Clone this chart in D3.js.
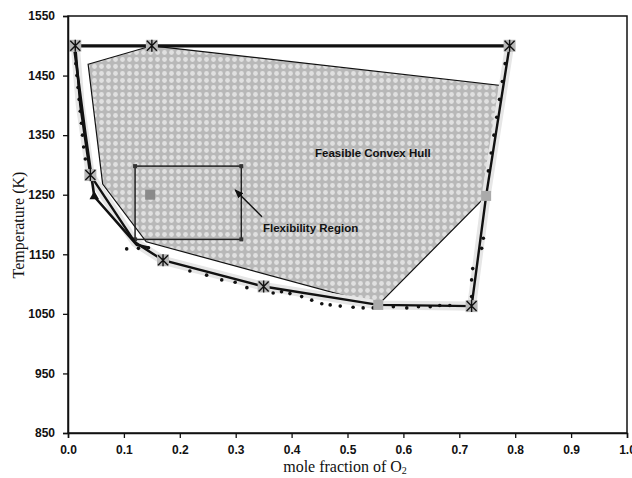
<!DOCTYPE html>
<html lang="en">
<head>
  <meta charset="UTF-8">
  <title>Feasible Convex Hull</title>
  <script src="https://d3js.org/d3.v7.min.js"></script>
  <style>
    body { margin: 0; background: #fff; }
    .tick-label { font-family: "Liberation Sans", Arial, sans-serif; font-weight: bold; font-size: 12px; fill: #111; }
    .axis-title { font-family: "Liberation Serif", "Times New Roman", serif; font-size: 16px; fill: #111; }
    .note { font-family: "Liberation Sans", Arial, sans-serif; font-weight: bold; font-size: 11.5px; fill: #111; }
  </style>
</head>
<body>
  <svg width="632" height="478"></svg>
  <script>
    // axis ticks
    const xTicks = [0.0, 0.1, 0.2, 0.3, 0.4, 0.5, 0.6, 0.7, 0.8, 0.9, 1.0];
    const yTicks = [850, 950, 1050, 1150, 1250, 1350, 1450, 1550];

    // feasible convex hull vertices (mole fraction, temperature)
    const hullX = [0.036, 0.15, 0.778, 0.748, 0.555, 0.14, 0.062];
    const hullT = [1469, 1500, 1433, 1248, 1065, 1171, 1268];

    // upper temperature bound
    const topX = [0.013, 0.79];
    const topT = [1500, 1500];

    // solid boundary through the vertex points
    const boundX = [0.013, 0.022, 0.04, 0.12, 0.17, 0.35, 0.555, 0.722, 0.748, 0.79];
    const boundT = [1500, 1400, 1283, 1170, 1140, 1096, 1065, 1063, 1248, 1500];

    // second boundary branch (left side)
    const innerX = [0.012, 0.03, 0.047, 0.123, 0.145];
    const innerT = [1490, 1360, 1247, 1166, 1161];

    // computed boundary points (small dots)
    const dotX = [0.014, 0.016, 0.018, 0.02, 0.022, 0.024, 0.026, 0.028, 0.031, 0.034,
                  0.105, 0.126, 0.144, 0.218, 0.248, 0.275, 0.299, 0.32, 0.367, 0.382,
                  0.397, 0.418, 0.436, 0.454, 0.469, 0.487, 0.51, 0.528, 0.546, 0.582,
                  0.606, 0.627, 0.648, 0.665, 0.683, 0.722, 0.722, 0.724, 0.74, 0.743,
                  0.752, 0.757, 0.762, 0.767, 0.772, 0.777, 0.782];
    const dotT = [1470, 1450, 1430, 1410, 1390, 1370, 1350, 1330, 1310, 1290,
                  1159, 1160, 1161, 1122, 1115, 1107, 1103, 1094, 1085, 1087,
                  1084, 1079, 1073, 1067, 1065, 1063, 1061, 1060, 1060, 1062,
                  1060, 1062, 1062, 1064, 1064, 1079, 1107, 1126, 1160, 1177,
                  1290, 1320, 1350, 1380, 1410, 1440, 1470];

    // star markers (vertex points)
    const starX = [0.013, 0.15, 0.79, 0.04, 0.17, 0.35, 0.722];
    const starT = [1500, 1500, 1500, 1283, 1140, 1096, 1063];

    // grey square markers
    const squareX = [0.555, 0.748];
    const squareT = [1065, 1248];
    const nominalX = [0.147];
    const nominalT = [1250];

    // flexibility region
    const flexX = [0.12, 0.31];
    const flexT = [1175, 1298];

    // annotation arrow (from, to)
    const arrowX = [0.347, 0.299];
    const arrowT = [1213, 1258];

    const svg = d3.select("svg");
    const x = d3.scaleLinear().domain([0, 1]).range([68, 627]);
    const y = d3.scaleLinear().domain([850, 1550]).range([433, 16]);

    const defs = svg.append("defs");
    const pat = defs.append("pattern")
      .attr("id", "stipple")
      .attr("patternUnits", "userSpaceOnUse")
      .attr("width", 7).attr("height", 7);
    pat.append("rect").attr("width", 7).attr("height", 7).attr("fill", "#b8b8b8");
    pat.append("circle").attr("cx", 3.5).attr("cy", 3.5).attr("r", 2.4).attr("fill", "#e0e0e0");

    defs.append("marker")
      .attr("id", "arrowhead")
      .attr("viewBox", "0 -5 10 10")
      .attr("refX", 9)
      .attr("refY", 0)
      .attr("orient", "auto")
      .attr("markerWidth", 7)
      .attr("markerHeight", 7)
      .append("path")
      .attr("d", "M 0,-4 L 10,0 L 0,4 Z")
      .attr("fill", "#111");

    const line = d3.line().x(d => x(d[0])).y(d => y(d[1]));
    const pairs = (xs, ts) => xs.map((v, i) => [v, ts[i]]);

    // hull
    svg.append("path")
      .attr("d", line(pairs(hullX, hullT)) + "Z")
      .attr("fill", "url(#stipple)")
      .attr("stroke", "#111")
      .attr("stroke-width", 1.2);

    // faint halo under the boundary curves
    svg.append("path")
      .attr("d", line(pairs(boundX, boundT)))
      .attr("fill", "none")
      .attr("stroke", "#e6e6e6")
      .attr("stroke-width", 9);

    // flexibility region
    svg.append("rect")
      .attr("x", x(flexX[0]))
      .attr("y", y(flexT[1]))
      .attr("width", x(flexX[1]) - x(flexX[0]))
      .attr("height", y(flexT[0]) - y(flexT[1]))
      .attr("fill", "none")
      .attr("stroke", "#222")
      .attr("stroke-width", 1.5);
    [[0, 0], [0, 1], [1, 0], [1, 1]].forEach(c => {
      svg.append("rect")
        .attr("x", x(flexX[c[0]]) - 2).attr("y", y(flexT[c[1]]) - 2)
        .attr("width", 4).attr("height", 4)
        .attr("fill", "#333");
    });

    svg.append("rect")
      .attr("x", x(nominalX[0]) - 5).attr("y", y(nominalT[0]) - 5)
      .attr("width", 10).attr("height", 10)
      .attr("fill", "#8a8a8a");

    // top bound
    svg.append("path")
      .attr("d", line(pairs(topX, topT)))
      .attr("stroke", "#111")
      .attr("stroke-width", 3.2)
      .attr("fill", "none");

    // boundaries
    svg.append("path")
      .attr("d", line(pairs(boundX, boundT)))
      .attr("stroke", "#111")
      .attr("stroke-width", 2.4)
      .attr("fill", "none");

    svg.append("path")
      .attr("d", line(pairs(innerX, innerT)))
      .attr("stroke", "#111")
      .attr("stroke-width", 2.6)
      .attr("fill", "none");

    // triangle marker at the inner branch
    svg.append("path")
      .attr("d", d3.symbol().type(d3.symbolTriangle).size(40)())
      .attr("transform", `translate(${x(innerX[2])},${y(innerT[2])})`)
      .attr("fill", "#111");

    svg.selectAll(".dot")
      .data(pairs(dotX, dotT))
      .enter()
      .append("circle")
      .attr("class", "dot")
      .attr("cx", d => x(d[0]))
      .attr("cy", d => y(d[1]))
      .attr("r", 1.8)
      .attr("fill", "#111");

    svg.selectAll(".sq")
      .data(pairs(squareX, squareT))
      .enter()
      .append("rect")
      .attr("class", "sq")
      .attr("x", d => x(d[0]) - 5)
      .attr("y", d => y(d[1]) - 5)
      .attr("width", 10).attr("height", 10)
      .attr("fill", "#aaa");

    const stars = svg.selectAll(".star")
      .data(pairs(starX, starT))
      .enter()
      .append("g")
      .attr("class", "star")
      .attr("transform", d => `translate(${x(d[0])},${y(d[1])})`);
    stars.append("rect")
      .attr("x", -6).attr("y", -6).attr("width", 12).attr("height", 12)
      .attr("fill", "#b8b8b8");
    stars.append("path")
      .attr("d", "M-5,-5L5,5M-5,5L5,-5M0,-6L0,6")
      .attr("stroke", "#111")
      .attr("stroke-width", 1.4)
      .attr("fill", "none");

    // annotation
    svg.append("line")
      .attr("x1", x(arrowX[0])).attr("y1", y(arrowT[0]))
      .attr("x2", x(arrowX[1])).attr("y2", y(arrowT[1]))
      .attr("stroke", "#111")
      .attr("stroke-width", 1.3)
      .attr("marker-end", "url(#arrowhead)");

    svg.append("text").attr("class", "note")
      .attr("x", 263).attr("y", 232)
      .text("Flexibility Region");
    svg.append("text").attr("class", "note")
      .attr("x", 315).attr("y", 157)
      .text("Feasible Convex Hull");

    // frame and axes
    svg.append("rect")
      .attr("x", 68).attr("y", 16)
      .attr("width", 559).attr("height", 417)
      .attr("fill", "none")
      .attr("stroke", "#111")
      .attr("stroke-width", 1.5);

    const xAxis = svg.append("g")
      .attr("transform", "translate(0,433)")
      .call(d3.axisBottom(x).tickValues(xTicks).tickSize(5).tickFormat(d3.format(".1f")));
    const yAxis = svg.append("g")
      .attr("transform", "translate(68,0)")
      .call(d3.axisLeft(y).tickValues(yTicks).tickSize(5).tickFormat(d3.format("d")));
    [xAxis, yAxis].forEach(a => {
      a.attr("font-size", null).attr("font-family", null);
      a.select(".domain").attr("stroke", "#111").attr("stroke-width", 1.5);
      a.selectAll(".tick line").attr("stroke", "#111").attr("stroke-width", 1.3);
      a.selectAll(".tick text").attr("class", "tick-label");
    });
    xAxis.selectAll(".tick text").attr("y", 12).attr("dy", "0.71em");
    yAxis.selectAll(".tick text").attr("x", -13);

    svg.append("text").attr("class", "axis-title")
      .attr("x", 345).attr("y", 472)
      .attr("text-anchor", "middle")
      .html('mole fraction of O<tspan dy="2" font-size="10">2</tspan>');

    svg.append("text").attr("class", "axis-title")
      .attr("transform", "translate(24,225) rotate(-90)")
      .attr("text-anchor", "middle")
      .text("Temperature (K)");
  </script>
</body>
</html>
